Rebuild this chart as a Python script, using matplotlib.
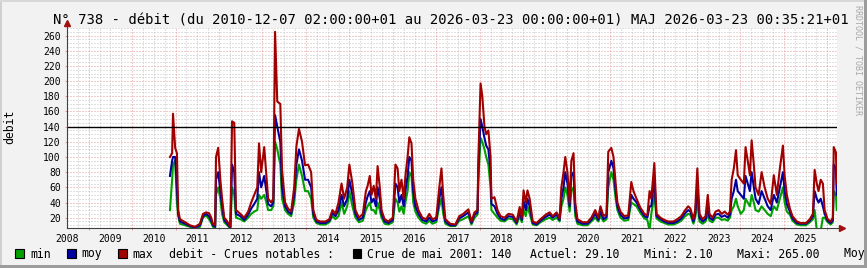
import matplotlib
matplotlib.use("Agg")
import matplotlib.pyplot as plt
from matplotlib.patches import Rectangle
import numpy as np

# ---------------- data (decimal years, débit values) ----------------
dates = [
    2010.87, 2010.92, 2010.94, 2010.99,
    2011.03, 2011.06, 2011.10, 2011.22, 2011.33, 2011.45, 2011.56, 2011.63, 2011.70, 2011.77, 2011.82, 2011.86, 2011.91, 2011.93, 2011.98,
    2012.03, 2012.07, 2012.12, 2012.19, 2012.26, 2012.30, 2012.35, 2012.39, 2012.49, 2012.58, 2012.67, 2012.74, 2012.81, 2012.88, 2012.92, 2012.97,
    2013.04, 2013.09, 2013.13, 2013.20, 2013.25, 2013.29, 2013.34, 2013.41, 2013.45, 2013.52, 2013.59, 2013.66, 2013.73, 2013.78, 2013.84, 2013.91, 2013.98,
    2014.05, 2014.12, 2014.17, 2014.24, 2014.33, 2014.45, 2014.54, 2014.61, 2014.68, 2014.75, 2014.82, 2014.88, 2014.95,
    2015.00, 2015.07, 2015.14, 2015.22, 2015.31, 2015.38, 2015.42, 2015.47, 2015.51, 2015.56, 2015.61, 2015.65, 2015.70, 2015.74, 2015.81, 2015.90,
    2016.00, 2016.06, 2016.11, 2016.15, 2016.20, 2016.25, 2016.29, 2016.34, 2016.38, 2016.43, 2016.47, 2016.52, 2016.59, 2016.68, 2016.77, 2016.84, 2016.91,
    2017.00, 2017.07, 2017.12, 2017.16, 2017.21, 2017.32, 2017.44, 2017.53, 2017.62, 2017.74, 2017.81, 2017.88, 2017.95, 2017.97,
    2018.02, 2018.06, 2018.11, 2018.15, 2018.20, 2018.25, 2018.27, 2018.34, 2018.41, 2018.48, 2018.57, 2018.66, 2018.76, 2018.85, 2018.92, 2018.97,
    2019.01, 2019.06, 2019.10, 2019.15, 2019.22, 2019.31, 2019.40, 2019.52, 2019.61, 2019.68, 2019.77, 2019.84, 2019.88, 2019.93, 2019.97,
    2020.02, 2020.07, 2020.11, 2020.16, 2020.20, 2020.25, 2020.37, 2020.48, 2020.57, 2020.66, 2020.73, 2020.78, 2020.85, 2020.92, 2020.96,
    2021.03, 2021.08, 2021.13, 2021.17, 2021.24, 2021.33, 2021.42, 2021.49, 2021.54, 2021.61, 2021.70, 2021.79, 2021.86, 2021.91, 2021.95,
    2022.02, 2022.07, 2022.16, 2022.25, 2022.34, 2022.46, 2022.55, 2022.64, 2022.73, 2022.80, 2022.85, 2022.92, 2022.96,
    2023.01, 2023.06, 2023.13, 2023.20, 2023.25, 2023.29, 2023.36, 2023.43, 2023.50, 2023.57, 2023.64, 2023.71, 2023.76, 2023.80, 2023.85, 2023.90, 2023.94,
    2024.01, 2024.08, 2024.12, 2024.17, 2024.22, 2024.26, 2024.31, 2024.35, 2024.42, 2024.49, 2024.56, 2024.63, 2024.70, 2024.77, 2024.84, 2024.91, 2024.98,
    2025.02, 2025.07, 2025.14, 2025.20, 2025.30, 2025.39, 2025.51, 2025.60, 2025.67, 2025.71, 2025.76, 2025.80, 2025.85, 2025.90, 2025.94,
    2026.01, 2026.08, 2026.13, 2026.15, 2026.20, 2026.22,
]
debit_max = [
    100, 105, 157, 112,
    105, 30, 18, 14, 10, 8, 12, 25, 27, 26, 20, 12, 10, 100, 112,
    70, 45, 20, 15, 8, 147, 145, 30, 25, 20, 28, 40, 50, 60, 118, 80,
    113, 75, 45, 40, 45, 265, 173, 170, 83, 40, 32, 28, 60, 114, 137, 120, 89,
    90, 80, 30, 17, 15, 15, 18, 30, 25, 40, 65, 45, 60,
    90, 65, 30, 20, 25, 55, 62, 75, 50, 62, 45, 88, 60, 30, 18, 15,
    20, 90, 85, 55, 70, 45, 75, 100, 126, 118, 70, 45, 30, 20, 18, 25, 18,
    20, 60, 85, 50, 18, 12, 11, 22, 25, 31, 15, 27, 30, 100,
    197, 180, 140, 130, 135, 100, 45, 47, 30, 22, 20, 25, 24, 15, 34, 20,
    56, 40, 56, 45, 15, 13, 18, 24, 27, 22, 27, 19, 60, 80, 100,
    80, 40, 95, 105, 40, 18, 14, 14, 20, 30, 20, 35, 22, 25, 107,
    112, 100, 65, 40, 28, 22, 23, 67, 55, 45, 33, 25, 23, 55, 45,
    92, 25, 20, 17, 15, 15, 18, 22, 30, 35, 32, 18, 30,
    85, 25, 18, 22, 50, 25, 20, 28, 30, 25, 28, 24, 28, 70, 85, 109, 76,
    70, 65, 113, 95, 76, 122, 90, 60, 50, 80, 60, 45, 38, 76, 50, 85, 115,
    75, 50, 32, 22, 15, 13, 13, 18, 25, 83, 65, 55, 70, 65, 30,
    18, 15, 20, 113, 106, 65,
]
debit_moy = [
    75, 95, 100, 100,
    60, 25, 15, 12, 9, 7, 10, 22, 25, 22, 16, 10, 8, 70, 80,
    55, 35, 17, 12, 7, 90, 80, 25, 22, 17, 24, 32, 38, 45, 80, 60,
    75, 55, 38, 35, 40, 155, 140, 120, 60, 35, 28, 25, 50, 90, 110, 95, 70,
    70, 60, 25, 15, 13, 13, 16, 26, 22, 30, 50, 35, 45,
    70, 50, 25, 17, 20, 40, 48, 55, 40, 45, 35, 60, 45, 25, 15, 13,
    17, 65, 60, 40, 50, 35, 55, 75, 100, 95, 55, 35, 25, 17, 15, 20, 15,
    17, 45, 60, 35, 15, 10, 10, 19, 22, 27, 13, 24, 27, 85,
    150, 140, 125, 115, 110, 80, 38, 35, 25, 19, 17, 22, 21, 13, 28, 17,
    42, 30, 45, 35, 13, 11, 16, 21, 24, 20, 24, 17, 45, 60, 80,
    65, 35, 75, 80, 30, 15, 12, 12, 17, 25, 17, 28, 18, 21, 80,
    95, 85, 55, 35, 24, 19, 20, 50, 45, 40, 30, 22, 20, 35, 35,
    70, 22, 18, 15, 13, 13, 15, 19, 26, 30, 28, 15, 25,
    60, 20, 15, 18, 35, 20, 17, 24, 25, 21, 23, 20, 24, 45, 55, 70, 55,
    50, 45, 75, 65, 55, 80, 60, 45, 38, 55, 45, 35, 30, 50, 40, 60, 80,
    55, 38, 28, 19, 13, 12, 12, 16, 22, 55, 45, 40, 45, 35, 25,
    16, 13, 17, 90, 85, 50,
]
debit_min = [
    30, 70, 90, 95,
    40, 22, 12, 10, 8, 6, 8, 20, 23, 18, 13, 8, 6, 50, 60,
    45, 25, 14, 10, 6, 60, 50, 20, 18, 15, 20, 25, 28, 30, 50, 45,
    50, 40, 30, 30, 35, 120, 110, 90, 45, 30, 25, 22, 40, 70, 90, 75, 55,
    55, 45, 20, 13, 11, 11, 14, 22, 18, 22, 40, 25, 35,
    55, 35, 20, 14, 16, 30, 35, 40, 30, 30, 25, 40, 30, 20, 12, 11,
    14, 45, 40, 28, 35, 25, 40, 55, 80, 75, 40, 28, 20, 14, 12, 16, 12,
    14, 35, 45, 25, 12, 9, 9, 16, 18, 22, 11, 20, 24, 70,
    125, 120, 110, 100, 90, 60, 30, 25, 20, 16, 15, 19, 18, 11, 22, 14,
    30, 22, 35, 25, 11, 10, 14, 18, 20, 17, 20, 15, 35, 45, 60,
    50, 28, 55, 60, 22, 12, 10, 10, 15, 20, 15, 22, 15, 18, 60,
    80, 70, 45, 30, 20, 16, 17, 40, 38, 35, 26, 19, 17, 3, 25,
    50, 19, 15, 13, 11, 11, 13, 16, 22, 25, 24, 12, 20,
    40, 15, 12, 15, 25, 16, 14, 20, 20, 17, 18, 16, 20, 30, 35, 45, 35,
    25, 30, 45, 40, 35, 50, 40, 30, 28, 35, 30, 25, 22, 35, 30, 45, 60,
    40, 28, 24, 16, 11, 10, 10, 14, 18, 30, 3, 3, 3, 20, 20,
    14, 11, 14, 55, 50, 30,
]
year_labels = list(range(2008, 2026))
crue_ref = 140
title = ("N° 738 - débit (du 2010-12-07 02:00:00+01 au 2026-03-23 00:00:00+01) "
         "MAJ 2026-03-23 00:35:21+01")
legend_series = ["min", "moy", "max"]
legend_colors = ["#00a000", "#0000a0", "#a00000"]
legend_texts = ["debit - Crues notables :", "Crue de mai 2001: 140", "Actuel: 29.10",
                "Mini: 2.10", "Maxi: 265.00", "Moyenne: 27.35"]

n = min(len(dates), len(debit_max), len(debit_moy), len(debit_min))
dates, debit_max, debit_moy, debit_min = dates[:n], debit_max[:n], debit_moy[:n], debit_min[:n]

# ---------------- figure ----------------
plt.rcParams['font.family'] = ['DejaVu Sans Mono']
W, H = 867, 268
fig = plt.figure(figsize=(W / 100, H / 100), dpi=100, facecolor='#f2f2f2')

def fx(px):
    return px / W

def fy(py):
    return 1 - py / H

L, R, T, B = 67, 837, 28, 228.3
ax = fig.add_axes([fx(L), fy(B), (R - L) / W, (B - T) / H])
ax.set_facecolor('white')
ax.set_xlim(2008.5, 2026.225)
ax.set_ylim(6, 270)
for s in ax.spines.values():
    s.set_visible(False)

GRID = '#c2c2c2'
MGRID = '#e59a9a'
dot = (0, (1, 2))
for v in range(10, 271, 5):
    if v % 20:
        ax.axhline(v, color=GRID, lw=0.72, ls=dot, zorder=1)
for q in np.arange(2008.75, 2026.25, 0.25):
    if abs(q - round(q)) > 0.01:
        ax.axvline(q, color=GRID, lw=0.72, ls=dot, zorder=1)
for v in range(20, 261, 20):
    ax.axhline(v, color=MGRID, lw=0.72, ls=dot, zorder=1.5)
for yr in range(2009, 2027):
    ax.axvline(yr, color=MGRID, lw=0.72, ls=dot, zorder=1.5)

# series
lw = 1.5
ax.plot(dates, debit_min, color=legend_colors[0], lw=lw, zorder=3)
ax.plot(dates, debit_moy, color=legend_colors[1], lw=lw, zorder=4)
ax.plot(dates, debit_max, color=legend_colors[2], lw=lw, zorder=5)
ax.axhline(crue_ref, color='black', lw=1.0, zorder=6)

# ticks
ax.set_yticks(range(20, 261, 20))
ax.tick_params(axis='y', length=1.44, width=0.72, color=MGRID, pad=2.9, labelsize=7)
ax.set_xticks([y + 0.5 for y in year_labels])
ax.set_xticklabels([str(y) for y in year_labels])
ax.set_xticks(range(2009, 2027), minor=True)
ax.tick_params(axis='x', which='major', length=0, pad=4.0, labelsize=7)
ax.tick_params(axis='x', which='minor', length=1.44, width=0.72, color=MGRID)

# axis lines + arrows
AX = '#404040'
ARR = '#a01010'
ax.plot([0, 0], [0, 1.03], transform=ax.transAxes, color=AX, lw=0.8, clip_on=False, zorder=7)
ax.plot([0, 1.008], [0, 0], transform=ax.transAxes, color=AX, lw=0.8, clip_on=False, zorder=7)
ax.plot([0], [1.027], transform=ax.transAxes, marker='^', ms=4.5, color=ARR, clip_on=False, zorder=8)
ax.plot([1.006], [0], transform=ax.transAxes, marker='>', ms=4.5, color=ARR, clip_on=False, zorder=8)

# texts
fig.text(fx(450.5), fy(24), title, ha='center', va='baseline', fontsize=10, color='black')
fig.text(fx(10), fy(127), 'debit', rotation=90, ha='center', va='center', fontsize=8.3)
fig.text(fx(858.3), fy(60), 'RRDTOOL / TOBI OETIKER', rotation=-90, ha='center', va='center',
         fontsize=6, color='#a8a8a8')

# legend
base = fy(257.5)
sq_x = [15, 66.5, 117.5]
tx_x = [30, 81, 132]
for sx, tx, lab, col in zip(sq_x, tx_x, legend_series, legend_colors):
    fig.patches.append(Rectangle((fx(sx), fy(258)), 9 / W, 9 / H, facecolor=col, edgecolor='black',
                                 lw=0.8, transform=fig.transFigure, figure=fig))
    fig.text(fx(tx), base, lab, ha='left', va='baseline', fontsize=8.3)
fig.text(fx(169), base, legend_texts[0], ha='left', va='baseline', fontsize=8.3)
fig.patches.append(Rectangle((fx(352.5), fy(258)), 8 / W, 9 / H, facecolor='black', edgecolor='black',
                             lw=0.8, transform=fig.transFigure, figure=fig))
for px, txt in zip([367, 530.5, 643.7, 736.7, 844.5], legend_texts[1:]):
    fig.text(fx(px), base, txt, ha='left', va='baseline', fontsize=8.3)

# frame shading
fig.patches.append(Rectangle((0, 0), 2 / W, 1, facecolor='#d0d0d0', lw=0, transform=fig.transFigure, figure=fig, zorder=10))
fig.patches.append(Rectangle((0, 1 - 2 / H), 1, 2 / H, facecolor='#d8d8d8', lw=0, transform=fig.transFigure, figure=fig, zorder=10))
fig.patches.append(Rectangle((1 - 3 / W, 0), 3 / W, 1, facecolor='#9c9c9c', lw=0, transform=fig.transFigure, figure=fig, zorder=10))
fig.patches.append(Rectangle((0, 0), 1, 3 / H, facecolor='#9c9c9c', lw=0, transform=fig.transFigure, figure=fig, zorder=10))

fig.savefig('out.png', dpi=100, facecolor=fig.get_facecolor())
